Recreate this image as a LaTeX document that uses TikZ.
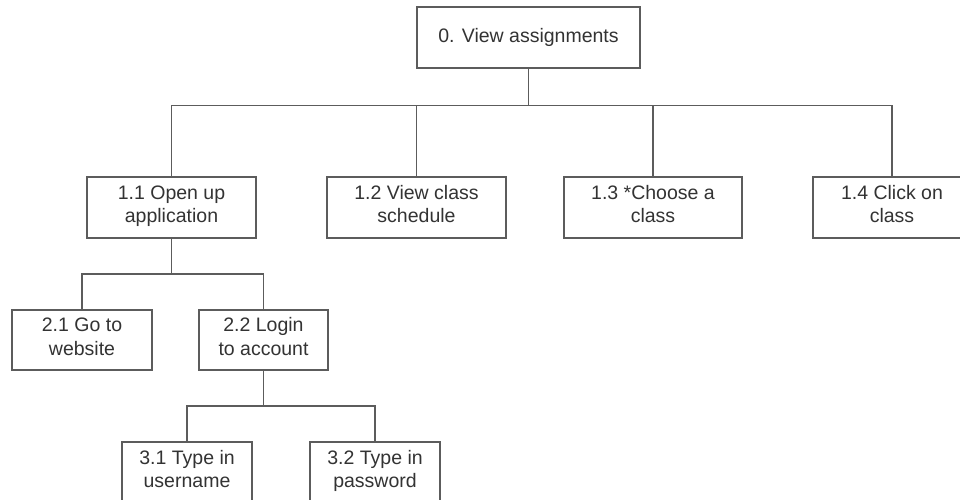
\documentclass[tikz,border=0pt]{standalone}
\usepackage{fontspec}
\setmainfont{Liberation Sans}
\begin{document}
\begin{tikzpicture}[x=1pt,y=-1pt,
  box/.style={draw=black!64,line width=1.8pt,fill=white,text=black!80,align=center,
    inner sep=0pt,minimum height=61pt,
    font=\fontsize{19.5}{23.5}\selectfont},
  twoline/.style={box,execute at begin node={\rule{0pt}{24pt}},execute at end node={\strut}},
  oneline/.style={box,execute at begin node={\rule{0pt}{18pt}},execute at end node={\strut}},
  link/.style={draw=black!64,line width=1.8pt}]
\useasboundingbox (0,0) rectangle (960,500);
\clip (0,0) rectangle (960,500);
\node[oneline,minimum width=223pt] (n0) at (528.5,37.5) {0. View assignments};
\node[twoline,minimum width=169pt] (n11) at (171.5,207.5) {1.1 Open up\\application};
\node[twoline,minimum width=179pt] (n12) at (416.5,207.5) {1.2 View class\\schedule};
\node[twoline,minimum width=178pt] (n13) at (653,207.5) {1.3 *Choose a\\class};
\node[twoline,minimum width=158pt] (n14) at (892,207.5) {1.4 Click on\\class};
\node[twoline,minimum width=140pt,minimum height=60pt] (n21) at (82,340) {2.1 Go to\\website};
\node[twoline,minimum width=129pt,minimum height=60pt] (n22) at (263.5,340) {2.2 Login\\to account};
\node[twoline,minimum width=130pt] (n31) at (187,472.5) {3.1 Type in\\username};
\node[twoline,minimum width=130pt] (n32) at (375,472.5) {3.2 Type in\\password};
\coordinate (b0) at (528.5,105.5);
\coordinate (b1) at (171.5,274);
\coordinate (b2) at (263.5,406);
\draw[link] (n0.south) -- (b0);
\draw[link] (n11.north) |- (b0) -| (n14.north);
\draw[link] (n12.north) -- (n12.north |- b0);
\draw[link] (n13.north) -- (n13.north |- b0);
\draw[link] (n11.south) -- (b1);
\draw[link] (n21.north) |- (b1) -| (n22.north);
\draw[link] (n22.south) -- (b2);
\draw[link] (n31.north) |- (b2) -| (n32.north);
\end{tikzpicture}
\end{document}
